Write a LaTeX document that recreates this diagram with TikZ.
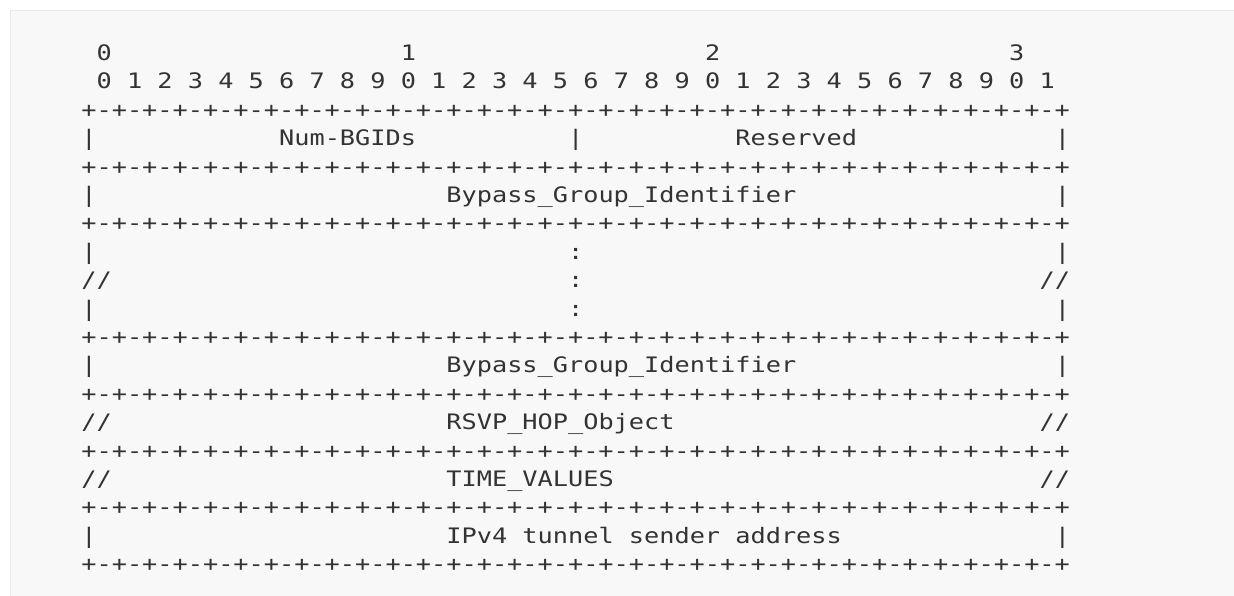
\documentclass[tikz,border=0pt]{standalone}
\usepackage{fontspec}
\newfontfamily\asciifont[FakeStretch=1.186]{DejaVu Sans Mono}
\definecolor{ink}{HTML}{333333}
\definecolor{panel}{HTML}{F8F8F8}
\definecolor{panelrule}{HTML}{EAEAEA}
\tikzset{txt/.style={anchor=base west, inner sep=0pt, outer sep=0pt, text=ink,
  font=\asciifont\fontsize{21.3}{21.3}\selectfont}}
\newcommand\asc[4]{\node[txt] (#1) at ({81.4+15.21*(#2)},{60.5+28.4*((#3)-1)}) {#4};}
\newcommand\bordr{+-+-+-+-+-+-+-+-+-+-+-+-+-+-+-+-+-+-+-+-+-+-+-+-+-+-+-+-+-+-+-+-+}
\begin{document}
\begin{tikzpicture}[x=1pt,y=-1pt]
\useasboundingbox (0,0) rectangle (1234,595);
\fill[white] (-20,-20) rectangle (1260,620);
\filldraw[fill=panel, draw=panelrule, line width=1.5pt] (10.5,10.5) rectangle (1280,640);
% header rows
\asc{h0}{1}{1}{0}
\asc{h1}{21}{1}{1}
\asc{h2}{41}{1}{2}
\asc{h3}{61}{1}{3}
\foreach \i in {0,...,31}{\pgfmathtruncatemacro\dg{mod(\i,10)}\asc{d\i}{1+2*\i}{2}{\dg}}
% borders
\foreach \r in {3,5,7,11,13,15,17,19}{\asc{b\r}{0}{\r}{\bordr}}
% row 4
\asc{l4}{0}{4}{|}
\asc{numbgids}{13}{4}{Num-BGIDs}
\asc{m4}{32}{4}{|}
\asc{reserved}{43}{4}{Reserved}
\asc{r4}{64}{4}{|}
% row 6
\asc{l6}{0}{6}{|}
\asc{bgid1}{24}{6}{Bypass\_Group\_Identifier}
\asc{r6}{64}{6}{|}
% rows 8-10
\asc{l8}{0}{8}{|}
\asc{c8}{32}{8}{:}
\asc{r8}{64}{8}{|}
\asc{l9}{0}{9}{//}
\asc{c9}{32}{9}{:}
\asc{r9}{63}{9}{//}
\asc{l10}{0}{10}{|}
\asc{c10}{32}{10}{:}
\asc{r10}{64}{10}{|}
% row 12
\asc{l12}{0}{12}{|}
\asc{bgid2}{24}{12}{Bypass\_Group\_Identifier}
\asc{r12}{64}{12}{|}
% row 14
\asc{l14}{0}{14}{//}
\asc{rsvp}{24}{14}{RSVP\_HOP\_Object}
\asc{r14}{63}{14}{//}
% row 16
\asc{l16}{0}{16}{//}
\asc{timev}{24}{16}{TIME\_VALUES}
\asc{r16}{63}{16}{//}
% row 18
\asc{l18}{0}{18}{|}
\asc{ipv4}{24}{18}{IPv4 tunnel sender address}
\asc{r18}{64}{18}{|}
\end{tikzpicture}
\end{document}
